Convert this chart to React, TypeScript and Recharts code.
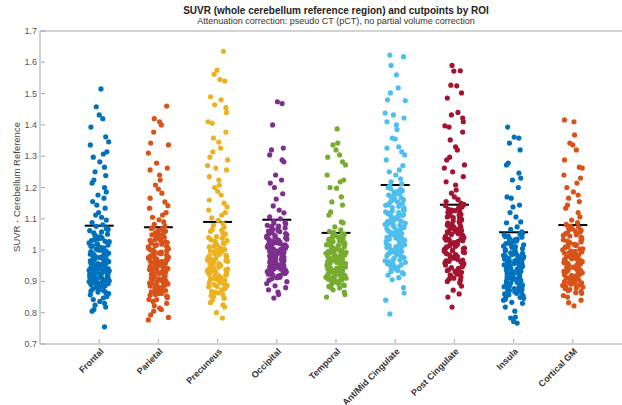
import React from 'react';
import { ScatterChart, Scatter, XAxis, YAxis, ReferenceLine } from 'recharts';

const CATEGORIES = ['Frontal', 'Parietal', 'Precuneus', 'Occipital', 'Temporal', 'Ant/Mid Cingulate', 'Post Cingulate', 'Insula', 'Cortical GM'];
const COLORS = ['#0072BD', '#D95319', '#EDB120', '#7E2F8E', '#77AC30', '#4DBEEE', '#A2142F', '#0072BD', '#D95319'];
const CUTPOINTS = [1.078, 1.073, 1.09, 1.097, 1.055, 1.208, 1.145, 1.057, 1.08];
const Y_TICKS = [0.7, 0.8, 0.9, 1, 1.1, 1.2, 1.3, 1.4, 1.5, 1.6, 1.7];

// SUVR values read off the strips (upper tails point by point, dense bodies estimated)
const FRONTAL = [
  1.515, 1.458, 1.432, 1.42, 1.393, 1.362, 1.346, 1.336, 1.314, 1.307, 1.297, 1.282, 1.265, 1.25, 1.238, 1.224,
  1.214, 1.2, 1.186, 1.176, 1.166, 1.155, 1.144, 1.134, 1.12, 1.112, 1.105, 1.096, 1.088, 1.081,
  1.076, 1.071, 1.066, 1.062, 1.055, 1.051, 1.047, 1.043, 1.038, 1.034, 1.03, 1.027, 1.023, 1.019, 1.016, 1.012,
  1.009, 1.006, 1.003, 1.0, 0.998, 0.995, 0.993, 0.99, 0.987, 0.985, 0.982, 0.979, 0.977, 0.974, 0.972, 0.969,
  0.967, 0.964, 0.962, 0.959, 0.957, 0.954, 0.952, 0.949, 0.947, 0.945, 0.942, 0.94, 0.937, 0.935, 0.932, 0.93,
  0.928, 0.925, 0.923, 0.92, 0.918, 0.915, 0.913, 0.91, 0.907, 0.905, 0.902, 0.899, 0.896, 0.893, 0.89, 0.887,
  0.884, 0.88, 0.877, 0.873, 0.869, 0.865, 0.861, 0.857, 0.852, 0.847, 0.842, 0.836, 0.83, 0.824, 0.818, 0.81,
  0.805, 0.755,
  0.861, 0.866, 0.871, 0.876, 0.882, 0.886, 0.889, 0.892, 0.895, 0.898, 0.901, 0.904, 0.906, 0.909, 0.912, 0.914,
  0.917, 0.919, 0.922, 0.924, 0.927, 0.929, 0.931, 0.934, 0.936, 0.939, 0.941, 0.944, 0.946, 0.948, 0.951, 0.953,
  0.956, 0.958, 0.961, 0.963, 0.966, 0.968, 0.971, 0.973, 0.976, 0.978, 0.981, 0.984, 0.986, 0.989, 0.992, 0.996,
  1.001, 1.007, 1.013, 1.02, 1.028, 1.036, 1.045, 1.058, 1.068,
];
const PARIETAL = [
  1.46, 1.42, 1.41, 1.4, 1.377, 1.342, 1.336, 1.31, 1.278, 1.262, 1.256, 1.24, 1.224, 1.208, 1.195, 1.182, 1.166,
  1.154, 1.142, 1.134, 1.12, 1.112, 1.105, 1.097, 1.09, 1.082, 1.077,
  1.072, 1.069, 1.064, 1.06, 1.057, 1.052, 1.049, 1.045, 1.041, 1.038, 1.033, 1.03, 1.026, 1.022, 1.019, 1.015,
  1.012, 1.008, 1.005, 1.001, 0.998, 0.995, 0.991, 0.988, 0.985, 0.982, 0.978, 0.975, 0.972, 0.969, 0.966, 0.962,
  0.959, 0.956, 0.953, 0.95, 0.947, 0.944, 0.941, 0.938, 0.935, 0.931, 0.928, 0.925, 0.922, 0.919, 0.916, 0.913,
  0.91, 0.906, 0.903, 0.9, 0.897, 0.893, 0.89, 0.887, 0.883, 0.879, 0.875, 0.871, 0.867, 0.862, 0.858, 0.853,
  0.848, 0.842, 0.836, 0.83, 0.822, 0.815, 0.81, 0.805, 0.793, 0.785, 0.777,
  0.842, 0.851, 0.856, 0.861, 0.866, 0.871, 0.876, 0.881, 0.885, 0.889, 0.892, 0.895, 0.899, 0.902, 0.905, 0.908,
  0.911, 0.914, 0.917, 0.92, 0.923, 0.926, 0.929, 0.933, 0.936, 0.939, 0.942, 0.946, 0.949, 0.952, 0.955, 0.958,
  0.961, 0.964, 0.967, 0.971, 0.974, 0.977, 0.98, 0.984, 0.987, 0.99, 0.994, 0.997, 1.0, 1.004, 1.01, 1.017,
  1.024, 1.031, 1.039, 1.047, 1.055, 1.062, 1.067,
];
const PRECUNEUS = [
  1.635, 1.575, 1.562, 1.545, 1.54, 1.49, 1.48, 1.464, 1.455, 1.44, 1.41, 1.405, 1.377, 1.358, 1.345, 1.326, 1.314,
  1.297, 1.288, 1.27, 1.262, 1.256, 1.235, 1.224, 1.208, 1.2, 1.188, 1.176, 1.16, 1.15, 1.138, 1.128, 1.12, 1.112,
  1.103, 1.095,
  1.085, 1.079, 1.073, 1.066, 1.06, 1.055, 1.049, 1.043, 1.038, 1.033, 1.027, 1.022, 1.017, 1.012, 1.007, 1.002,
  0.997, 0.993, 0.988, 0.984, 0.979, 0.975, 0.97, 0.966, 0.961, 0.957, 0.952, 0.948, 0.944, 0.939, 0.935, 0.931,
  0.926, 0.922, 0.918, 0.914, 0.909, 0.905, 0.901, 0.896, 0.892, 0.887, 0.883, 0.878, 0.873, 0.868, 0.863, 0.858,
  0.852, 0.846, 0.84, 0.832, 0.825, 0.818, 0.8, 0.783,
  0.855, 0.865, 0.875, 0.884, 0.89, 0.897, 0.903, 0.908, 0.912, 0.916, 0.92, 0.924, 0.929, 0.933, 0.937, 0.942,
  0.946, 0.95, 0.955, 0.959, 0.964, 0.968, 0.973, 0.977, 0.982, 0.986, 0.991, 0.995, 1.0, 1.005, 1.01, 1.02,
  1.03, 1.04, 1.052, 1.064,
];
const OCCIPITAL = [
  1.474, 1.468, 1.4, 1.326, 1.32, 1.304, 1.288, 1.282, 1.24, 1.224, 1.214, 1.2, 1.18, 1.163, 1.141, 1.128, 1.119,
  1.106, 1.1,
  1.093, 1.088, 1.084, 1.079, 1.075, 1.071, 1.067, 1.063, 1.059, 1.056, 1.052, 1.049, 1.045, 1.042, 1.039, 1.036,
  1.033, 1.03, 1.027, 1.024, 1.021, 1.018, 1.015, 1.012, 1.009, 1.006, 1.003, 1.0, 0.997, 0.994, 0.991, 0.988,
  0.985, 0.982, 0.979, 0.976, 0.973, 0.97, 0.967, 0.964, 0.961, 0.958, 0.955, 0.952, 0.949, 0.946, 0.943, 0.94,
  0.937, 0.934, 0.931, 0.928, 0.925, 0.921, 0.917, 0.913, 0.909, 0.904, 0.899, 0.893, 0.886, 0.88, 0.873, 0.866,
  0.858, 0.847,
  0.912, 0.919, 0.923, 0.927, 0.93, 0.933, 0.936, 0.939, 0.942, 0.945, 0.948, 0.951, 0.954, 0.957, 0.96, 0.963,
  0.966, 0.969, 0.972, 0.975, 0.978, 0.981, 0.984, 0.987, 0.99, 0.993, 0.996, 0.999, 1.002, 1.005, 1.008, 1.011,
  1.014, 1.017, 1.02, 1.023, 1.026, 1.029, 1.032, 1.035, 1.04, 1.046, 1.053, 1.061, 1.069, 1.077, 1.086,
];
const TEMPORAL = [
  1.387, 1.342, 1.336, 1.32, 1.304, 1.297, 1.282, 1.272, 1.24, 1.224, 1.218, 1.2, 1.198, 1.17, 1.154, 1.144, 1.122,
  1.112, 1.09, 1.087, 1.074, 1.065, 1.06,
  1.056, 1.052, 1.048, 1.044, 1.041, 1.037, 1.034, 1.03, 1.027, 1.024, 1.02, 1.017, 1.014, 1.011, 1.008, 1.005,
  1.002, 0.999, 0.996, 0.993, 0.99, 0.987, 0.984, 0.981, 0.978, 0.975, 0.972, 0.969, 0.966, 0.963, 0.96, 0.957,
  0.954, 0.951, 0.948, 0.945, 0.942, 0.939, 0.936, 0.933, 0.93, 0.927, 0.924, 0.921, 0.918, 0.915, 0.912, 0.909,
  0.906, 0.902, 0.898, 0.894, 0.889, 0.884, 0.879, 0.873, 0.866, 0.858, 0.85,
  0.881, 0.887, 0.892, 0.896, 0.9, 0.904, 0.907, 0.91, 0.913, 0.916, 0.919, 0.922, 0.925, 0.928, 0.931, 0.934,
  0.937, 0.94, 0.943, 0.946, 0.949, 0.952, 0.955, 0.958, 0.961, 0.964, 0.967, 0.97, 0.973, 0.976, 0.979, 0.982,
  0.985, 0.988, 0.991, 0.995, 0.998, 1.003, 1.009, 1.015, 1.022, 1.029, 1.036, 1.043, 1.05,
];
const ANT_MID_CINGULATE = [
  1.623, 1.618, 1.59, 1.56, 1.518, 1.502, 1.48, 1.478, 1.438, 1.432, 1.422, 1.41, 1.4, 1.385, 1.358, 1.355, 1.33,
  1.326, 1.314, 1.304, 1.288, 1.27, 1.256, 1.25, 1.24, 1.228, 1.218, 1.212,
  1.205, 1.2, 1.195, 1.19, 1.186, 1.181, 1.176, 1.172, 1.167, 1.163, 1.158, 1.154, 1.149, 1.145, 1.14, 1.136,
  1.131, 1.127, 1.122, 1.118, 1.113, 1.109, 1.104, 1.1, 1.095, 1.091, 1.086, 1.082, 1.077, 1.073, 1.068, 1.064,
  1.059, 1.055, 1.05, 1.046, 1.041, 1.037, 1.032, 1.028, 1.023, 1.019, 1.014, 1.01, 1.005, 1.001, 0.996, 0.992,
  0.987, 0.983, 0.978, 0.973, 0.968, 0.963, 0.958, 0.953, 0.947, 0.941, 0.935, 0.928, 0.92, 0.912, 0.905, 0.88,
  0.863, 0.84, 0.796,
  0.924, 0.932, 0.939, 0.945, 0.951, 0.956, 0.961, 0.966, 0.971, 0.976, 0.981, 0.985, 0.99, 0.994, 0.999, 1.003,
  1.008, 1.012, 1.017, 1.021, 1.026, 1.03, 1.035, 1.039, 1.044, 1.048, 1.053, 1.057, 1.062, 1.066, 1.071, 1.075,
  1.08, 1.084, 1.089, 1.093, 1.098, 1.102, 1.107, 1.111, 1.116, 1.12, 1.125, 1.129, 1.134, 1.143, 1.152, 1.161,
  1.17, 1.179, 1.188, 1.197,
];
const POST_CINGULATE = [
  1.59, 1.573, 1.572, 1.527, 1.525, 1.502, 1.486, 1.44, 1.432, 1.422, 1.41, 1.397, 1.393, 1.377, 1.352, 1.33, 1.32,
  1.297, 1.288, 1.272, 1.262, 1.25, 1.235, 1.218, 1.208, 1.192, 1.182, 1.17, 1.162, 1.155, 1.15,
  1.146, 1.142, 1.138, 1.134, 1.13, 1.126, 1.122, 1.118, 1.114, 1.11, 1.106, 1.102, 1.098, 1.094, 1.09, 1.086,
  1.082, 1.078, 1.074, 1.07, 1.066, 1.062, 1.058, 1.054, 1.05, 1.046, 1.042, 1.038, 1.034, 1.03, 1.026, 1.022,
  1.018, 1.014, 1.01, 1.006, 1.002, 0.998, 0.994, 0.99, 0.986, 0.982, 0.978, 0.974, 0.97, 0.966, 0.962, 0.957,
  0.952, 0.947, 0.942, 0.937, 0.932, 0.926, 0.92, 0.914, 0.907, 0.9, 0.895, 0.885, 0.872, 0.86, 0.85, 0.818,
  0.903, 0.91, 0.917, 0.923, 0.929, 0.934, 0.939, 0.944, 0.949, 0.954, 0.959, 0.964, 0.968, 0.972, 0.976, 0.98,
  0.984, 0.988, 0.992, 0.996, 1.0, 1.004, 1.008, 1.012, 1.016, 1.02, 1.024, 1.028, 1.032, 1.036, 1.04, 1.044,
  1.048, 1.052, 1.056, 1.06, 1.064, 1.068, 1.072, 1.076, 1.08, 1.088, 1.096, 1.104, 1.112, 1.12, 1.128, 1.136,
];
const INSULA = [
  1.393, 1.361, 1.358, 1.342, 1.32, 1.278, 1.272, 1.246, 1.23, 1.224, 1.2, 1.17, 1.166, 1.144, 1.138, 1.12, 1.106,
  1.09, 1.087, 1.074, 1.066,
  1.058, 1.053, 1.049, 1.045, 1.041, 1.037, 1.033, 1.029, 1.025, 1.021, 1.017, 1.013, 1.009, 1.005, 1.002, 0.998,
  0.995, 0.991, 0.988, 0.984, 0.981, 0.977, 0.974, 0.971, 0.967, 0.964, 0.961, 0.957, 0.954, 0.951, 0.947, 0.944,
  0.941, 0.937, 0.934, 0.931, 0.927, 0.924, 0.921, 0.917, 0.914, 0.911, 0.907, 0.904, 0.901, 0.897, 0.894, 0.89,
  0.887, 0.883, 0.879, 0.875, 0.871, 0.867, 0.862, 0.857, 0.852, 0.846, 0.84, 0.833, 0.83, 0.818, 0.805, 0.786,
  0.783, 0.772, 0.767,
  0.843, 0.849, 0.855, 0.86, 0.865, 0.869, 0.873, 0.877, 0.881, 0.885, 0.888, 0.892, 0.895, 0.899, 0.902, 0.906,
  0.909, 0.912, 0.916, 0.919, 0.922, 0.926, 0.929, 0.932, 0.936, 0.939, 0.943, 0.946, 0.949, 0.953, 0.956, 0.959,
  0.963, 0.966, 0.969, 0.973, 0.976, 0.979, 0.983, 0.986, 0.99, 0.997, 1.004, 1.011, 1.019, 1.027, 1.035, 1.043,
  1.051,
];
const CORTICAL_GM = [
  1.416, 1.41, 1.368, 1.342, 1.336, 1.32, 1.288, 1.265, 1.262, 1.24, 1.23, 1.214, 1.2, 1.186, 1.176, 1.166, 1.155,
  1.144, 1.134, 1.12, 1.106, 1.096, 1.088, 1.082,
  1.077, 1.073, 1.069, 1.065, 1.061, 1.057, 1.053, 1.049, 1.045, 1.041, 1.037, 1.033, 1.029, 1.026, 1.022, 1.018,
  1.015, 1.011, 1.008, 1.004, 1.001, 0.997, 0.994, 0.99, 0.987, 0.983, 0.98, 0.976, 0.973, 0.97, 0.966, 0.963,
  0.96, 0.956, 0.953, 0.95, 0.946, 0.943, 0.94, 0.936, 0.933, 0.93, 0.926, 0.923, 0.919, 0.916, 0.912, 0.909,
  0.905, 0.901, 0.897, 0.893, 0.889, 0.884, 0.879, 0.874, 0.868, 0.862, 0.855, 0.85, 0.84, 0.832, 0.822,
  0.864, 0.871, 0.877, 0.882, 0.887, 0.891, 0.895, 0.899, 0.903, 0.907, 0.911, 0.914, 0.918, 0.921, 0.925, 0.928,
  0.932, 0.935, 0.938, 0.942, 0.945, 0.948, 0.952, 0.955, 0.958, 0.962, 0.965, 0.968, 0.972, 0.975, 0.978, 0.982,
  0.985, 0.988, 0.992, 0.996, 1.003, 1.01, 1.017, 1.024, 1.031, 1.039, 1.047, 1.055, 1.063, 1.071,
];

// hand-picked horizontal scatter offsets (category units), cycled through
const JITTER = [
  0.03, -0.12, 0.15, -0.05, 0.09, -0.16, 0.0, 0.12, -0.09, 0.06, -0.02, 0.14, -0.14, 0.08, -0.07, 0.11, -0.11,
  0.02, 0.16, -0.04, 0.05, -0.15, 0.1, -0.08, 0.13, -0.01, -0.13, 0.07, -0.06, 0.17, -0.1, 0.04, -0.17, 0.01,
  0.12, -0.03, 0.09, -0.12, 0.15, -0.07, 0.06, -0.14, 0.11, -0.05, 0.02, -0.09, 0.14,
];

const SERIES = [FRONTAL, PARIETAL, PRECUNEUS, OCCIPITAL, TEMPORAL, ANT_MID_CINGULATE, POST_CINGULATE, INSULA, CORTICAL_GM];

const FONT = '"Liberation Sans", Arial, Helvetica, sans-serif';
const AXIS_GRAY = '#a6a6a6';

const BottomTick = ({ x, y, payload }: any) => (
  <g>
    <line x1={x} x2={x} y1={y - 1} y2={y - 5} stroke={AXIS_GRAY} />
    <text
      transform={`translate(${x + 5},${y + 8}) rotate(-45)`}
      textAnchor="end"
      fontSize={9}
      fontWeight="bold"
      fill="#333"
      fontFamily={FONT}
    >
      {CATEGORIES[payload.value - 1]}
    </text>
  </g>
);

const TopTick = ({ x, y }: any) => <line x1={x} x2={x} y1={y + 1} y2={y + 5} stroke={AXIS_GRAY} />;

const LeftTick = ({ x, y, payload }: any) => (
  <g>
    <line x1={x + 1} x2={x + 5} y1={y} y2={y} stroke={AXIS_GRAY} />
    <text x={x - 3} y={y} dy={3} textAnchor="end" fontSize={9} fill="#555" fontFamily={FONT}>
      {payload.value === 1 ? '1' : payload.value.toFixed(1)}
    </text>
  </g>
);

export default function App() {
  const points = SERIES.map((vals, c) =>
    vals.map((v, i) => ({ x: c + 1 + JITTER[(i * 3 + c * 11) % JITTER.length], y: v }))
  );

  return (
    <div
      style={{
        position: 'fixed',
        left: 0,
        top: 0,
        width: 622,
        height: 405,
        overflow: 'hidden',
        background: '#fff',
        fontFamily: FONT,
      }}
    >
      <div style={{ position: 'absolute', left: 0, width: 672, top: 5, textAlign: 'center', lineHeight: '11px' }}>
        <div style={{ fontSize: 10, fontWeight: 'bold', color: '#222' }}>
          SUVR (whole cerebellum reference region) and cutpoints by ROI
        </div>
        <div style={{ fontSize: 9, color: '#333' }}>
          Attenuation correction: pseudo CT (pCT), no partial volume correction
        </div>
      </div>
      <div
        style={{
          position: 'absolute',
          left: 16,
          top: 187,
          transform: 'translate(-50%, -50%) rotate(-90deg)',
          fontSize: 9.5,
          color: '#444',
          whiteSpace: 'nowrap',
        }}
      >
        SUVR - Cerebellum Reference
      </div>
      <div style={{ position: 'absolute', left: 0, top: 0 }}>
        <ScatterChart width={640} height={405} margin={{ top: 30, right: 8, bottom: 60, left: 39 }}>
          <XAxis
            type="number"
            dataKey="x"
            domain={[0, 10]}
            ticks={[1, 2, 3, 4, 5, 6, 7, 8, 9]}
            interval={0}
            height={1}
            tickSize={0}
            tickMargin={0}
            tick={<BottomTick />}
            tickLine={false}
            axisLine={{ stroke: AXIS_GRAY }}
            allowDataOverflow
          />
          <XAxis
            xAxisId="top"
            orientation="top"
            type="number"
            domain={[0, 10]}
            ticks={[1, 2, 3, 4, 5, 6, 7, 8, 9]}
            interval={0}
            height={1}
            tickSize={0}
            tickMargin={0}
            tick={<TopTick />}
            tickLine={false}
            axisLine={{ stroke: AXIS_GRAY }}
            allowDataOverflow
          />
          <YAxis
            type="number"
            dataKey="y"
            domain={[0.7, 1.7]}
            ticks={Y_TICKS}
            interval={0}
            width={1}
            tickSize={0}
            tickMargin={0}
            tick={<LeftTick />}
            tickLine={false}
            axisLine={{ stroke: AXIS_GRAY }}
            allowDataOverflow
          />
          {points.map((pts, c) => (
            <Scatter
              key={CATEGORIES[c]}
              name={CATEGORIES[c]}
              data={pts}
              fill={COLORS[c]}
              isAnimationActive={false}
              shape={(p: any) => <circle cx={p.cx} cy={p.cy} r={2.6} fill={COLORS[c]} />}
            />
          ))}
          {CUTPOINTS.map((cut, c) => (
            <ReferenceLine
              key={`cut-${c}`}
              segment={[
                { x: c + 1 - 0.245, y: cut },
                { x: c + 1 + 0.245, y: cut },
              ]}
              stroke="#000"
              strokeWidth={2}
              ifOverflow="visible"
            />
          ))}
        </ScatterChart>
      </div>
    </div>
  );
}
